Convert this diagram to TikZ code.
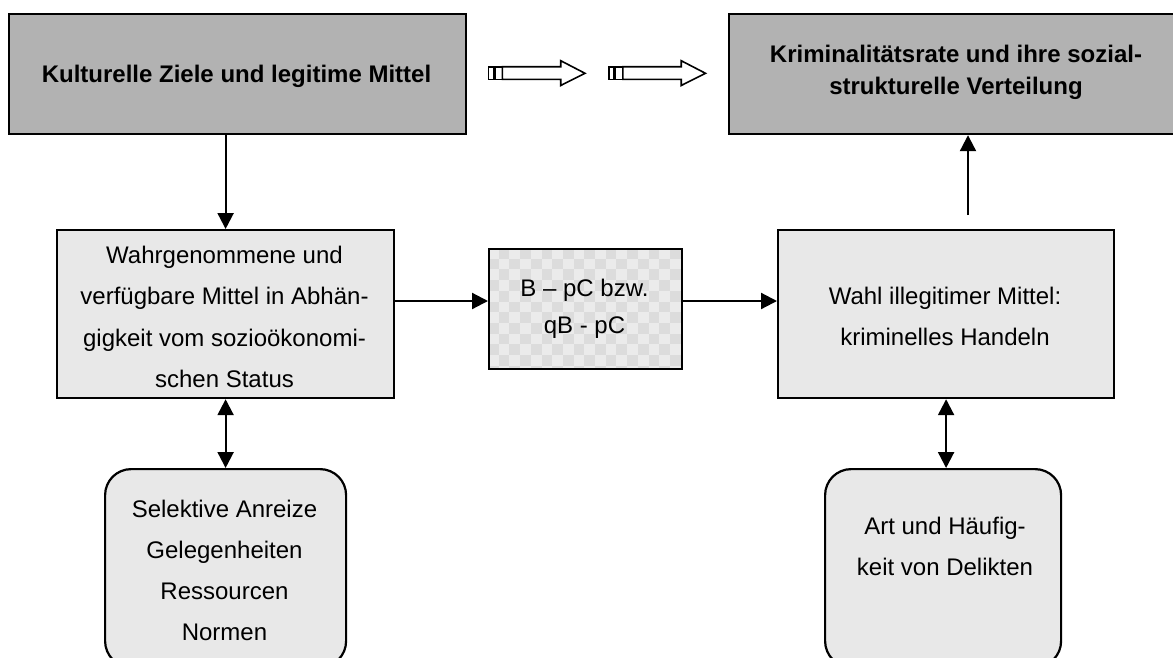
\documentclass[tikz,border=0pt]{standalone}
\usepackage{fontspec}
\setmainfont{Liberation Sans}
\usetikzlibrary{arrows.meta}
\definecolor{darkfill}{HTML}{B2B2B2}
\definecolor{lightfill}{HTML}{E8E8E8}
\definecolor{chkA}{HTML}{EBEBEB}
\definecolor{chkB}{HTML}{DCDCDC}
\tikzset{
  box/.style={draw=black, line width=2.2pt, inner sep=0pt, anchor=north west},
  topbox/.style={box, fill=darkfill},
  midbox/.style={box, fill=lightfill},
  roundbox/.style={box, fill=lightfill, rounded corners=26pt},
  txt/.style={align=center, inner sep=0pt, font=\fontsize{24}{41.5}\selectfont},
  btxt/.style={align=center, inner sep=0pt, font=\fontsize{24}{32}\selectfont\bfseries},
  conn/.style={line width=2.2pt, -{Triangle[length=16pt,width=16pt]}},
  dconn/.style={line width=2.2pt, {Triangle[length=16pt,width=16pt]}-{Triangle[length=16pt,width=16pt]}},
  hollow/.style={draw=black, line width=1.6pt, fill=white, line join=miter},
}
\begin{document}
\begin{tikzpicture}[x=1pt, y=-1pt]
\useasboundingbox (0,0) rectangle (1173,657);
\clip (0,0) rectangle (1173,657);
\fill[white] (0,0) rectangle (1173,657);

% top boxes
\node[topbox, minimum width=457pt, minimum height=120pt] (kz) at (8,13) {};
\node[topbox, minimum width=457pt, minimum height=120pt] (kr) at (728,13) {};
\node[btxt] (tkz) at (236.5,76) {Kulturelle Ziele und legitime Mittel};
\node[btxt] (tkr) at (956,72) {Kriminalitätsrate und ihre sozial-\\strukturelle Verteilung};

% hollow arrows
\foreach \s in {0,120.5}{
  \begin{scope}[xshift=\s pt]
  \draw[hollow] (488.3,66.7) rectangle (493.3,79.3);
  \draw[hollow] (495,66.7) rectangle (502.3,79.3);
  \draw[hollow] (502.3,66.7) -- (560.7,66.7) -- (560.7,60.7) -- (585,73.3) -- (560.7,85.5) -- (560.7,79.3) -- (502.3,79.3) -- cycle;
  \end{scope}
}

% middle boxes
\node[midbox, minimum width=337pt, minimum height=168pt] (lm) at (56,229) {};
\node[txt] (tlm) at (224.5,317) {Wahrgenommene und\\verfügbare Mittel in Abhän-\\gigkeit vom sozioökonomi-\\schen Status};

\begin{scope}
  \clip (488,248) rectangle (681,368);
  \fill[chkA] (488,248) rectangle (681,368);
  \foreach \i in {0,...,18}{
    \foreach \j in {0,...,11}{
      \ifodd\numexpr\i+\j\relax
        \fill[chkB] (488+\i*10.7, 248+\j*10.7) rectangle ++(10.7,10.7);
      \fi
    }
  }
\end{scope}
\node[box, minimum width=193pt, minimum height=120pt] (ck) at (488,248) {};
\node[txt, font=\fontsize{24}{37}\selectfont] (tck) at (584.5,309) {B – pC bzw.\\qB - pC};

\node[midbox, minimum width=336pt, minimum height=168pt] (wa) at (777,229) {};
\node[txt, font=\fontsize{24}{41}\selectfont] (twa) at (945,316.5) {Wahl illegitimer Mittel:\\kriminelles Handeln};

% bottom boxes
\node[roundbox, minimum width=241pt, minimum height=198pt] (bl) at (104,468) {};
\node[txt, font=\fontsize{24}{41}\selectfont] (tbl) at (224.5,570.5) {Selektive Anreize\\Gelegenheiten\\Ressourcen\\Normen};
\node[roundbox, minimum width=236pt, minimum height=198pt] (br) at (824,468) {};
\node[txt, font=\fontsize{24}{41}\selectfont] (tbr) at (945,546.5) {Art und Häufig-\\keit von Delikten};

% connectors
\coordinate (m) at (0,301);
\coordinate (c1) at (968,215);
\draw[conn] (kz.south -| lm.north) -- (lm.north);
\draw[conn] (lm.east |- m) -- (ck.west |- m);
\draw[conn] (ck.east |- m) -- (wa.west |- m);
\draw[conn] (c1) -- (c1 |- kr.south);
\draw[dconn] (lm.south) -- (lm.south |- bl.north);
\draw[dconn] (wa.south) -- (wa.south |- br.north);
\end{tikzpicture}
\end{document}
